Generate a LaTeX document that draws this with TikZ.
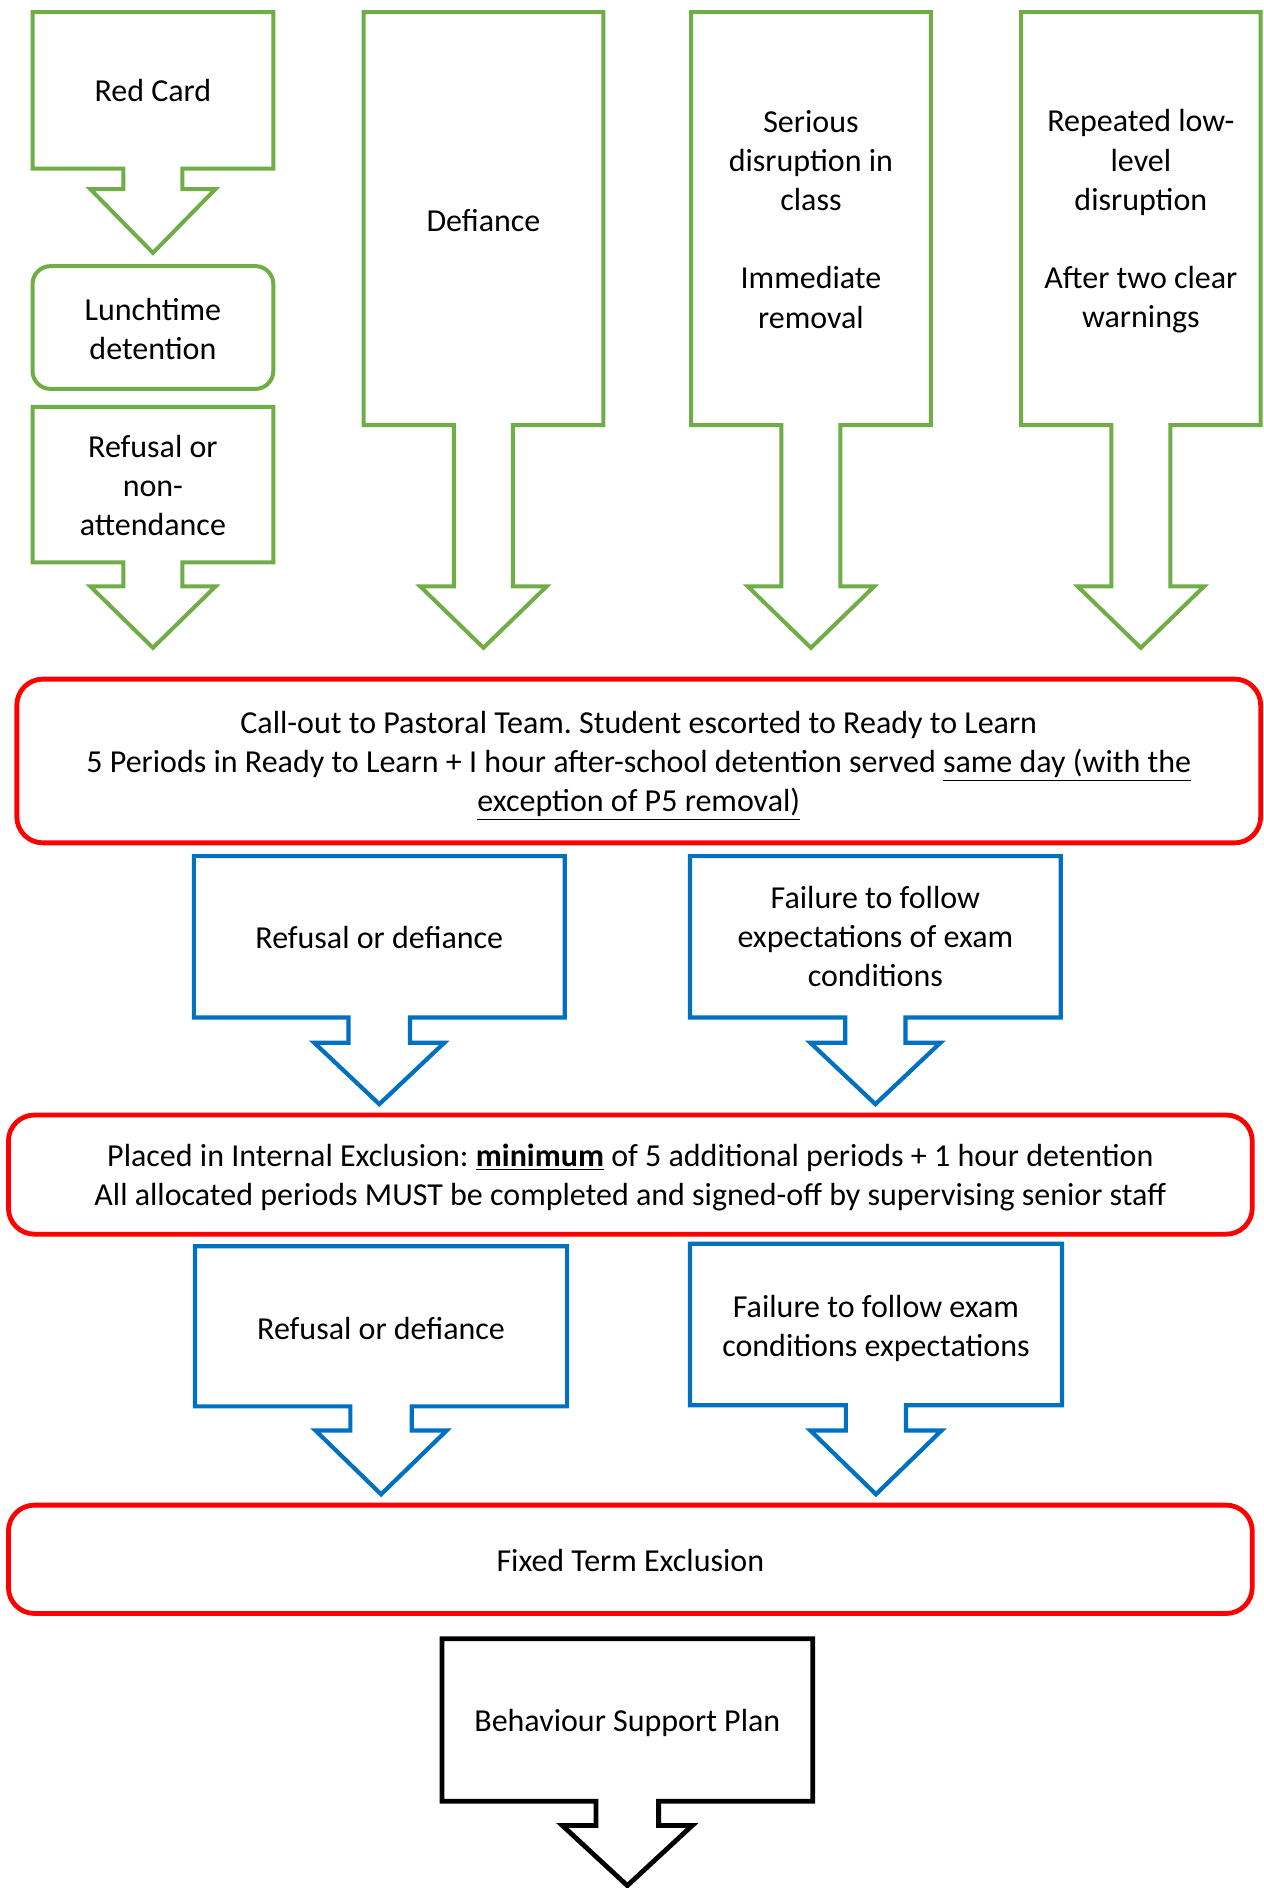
\documentclass[tikz,border=0pt]{standalone}
\usepackage{fontspec}
\setmainfont{Carlito}
\usepackage{tikz}
\frenchspacing

\definecolor{actgreen}{HTML}{70AD47}
\definecolor{actred}{HTML}{FF0000}
\definecolor{actblue}{HTML}{0070C0}

% Down-pointing callout: style, left, right, top, bottom, neck, tip, stem half-width, head half-width
\newcommand{\arrowbox}[9]{%
  \pgfmathsetmacro{\xMid}{(#2+#3)/2}
  \draw[#1] (#2,#4) -- (#3,#4) -- (#3,#5) -- ({\xMid+#8},#5) -- ({\xMid+#8},#6)
    -- ({\xMid+#9},#6) -- (\xMid,#7) -- ({\xMid-#9},#6) -- ({\xMid-#8},#6)
    -- ({\xMid-#8},#5) -- (#2,#5) -- cycle;}

\begin{document}
\begin{tikzpicture}[x=0.602pt, y=-0.602pt,
  greenbox/.style={draw=actgreen, line width=2pt},
  bluebox/.style={draw=actblue, line width=2.1pt},
  redbox/.style={draw=actred, line width=2.4pt, rounded corners=13pt},
  blackbox/.style={draw=black, line width=2.4pt},
  boxtext/.style={align=center, inner sep=0pt, font=\fontsize{16}{19.6}\selectfont}]

\useasboundingbox (0,0) rectangle (1049,1568);

%--- Top row: green callouts ---
% Red Card -> Lunchtime detention -> Refusal
\arrowbox{greenbox}{27}{227}{10}{140}{157}{210}{24.5}{52}
\node[boxtext] (redcard) at (127,75) {Red Card};
\draw[greenbox, rounded corners=9pt] (27,221) rectangle (227,323);
\node[boxtext] (lunch) at (127,273.5) {Lunchtime\\detention};
\arrowbox{greenbox}{27}{227}{338}{467}{487}{538}{24.5}{52}
\node[boxtext] (nonattend) at (127,403) {Refusal or\\non-\\attendance};

% Defiance
\arrowbox{greenbox}{302}{501}{10}{353}{487}{538}{24.5}{52.5}
\node[boxtext] (defiance) at (401.5,183) {Defiance};

% Serious disruption
\arrowbox{greenbox}{574}{773}{10}{353}{487}{538}{24.5}{52.5}
\node[boxtext] (serious) at (673.5,182) {Serious\\disruption in\\class\\[19.6pt]Immediate\\removal};

% Repeated low-level disruption
\arrowbox{greenbox}{848}{1047}{10}{353}{487}{538}{24.5}{52.5}
\node[boxtext] (lowlevel) at (947.5,184) {Repeated low-\\level\\disruption\\[19.6pt]After two clear\\warnings};

%--- Ready to Learn ---
\draw[redbox] (14,564) rectangle (1047,700);
\node[boxtext] (readylearn) at (530.5,636) {Call-out to Pastoral Team. Student escorted to Ready to Learn\\
  5 Periods in Ready to Learn + I hour after-school detention served \underline{same day (with the}\\
  \underline{exception of P5 removal)}};

%--- First blue row ---
\arrowbox{bluebox}{161}{469}{711}{845}{866}{917}{25.5}{54}
\node[boxtext] (refuseA) at (315,779) {Refusal or defiance};
\arrowbox{bluebox}{573}{881}{711}{845}{866}{917}{25}{54}
\node[boxtext] (examA) at (727,778) {Failure to follow\\expectations of exam\\conditions};

%--- Internal Exclusion ---
\draw[redbox] (7,926) rectangle (1040,1025);
\node[boxtext] (internal) at (523.5,978) {Placed in Internal Exclusion: \underline{\textbf{minimum}} of 5 additional periods + 1 hour detention\\
  All allocated periods MUST be completed and signed-off by supervising senior staff};

%--- Second blue row ---
\arrowbox{bluebox}{162}{471}{1035}{1168}{1188}{1241}{25.5}{54.5}
\node[boxtext] (refuseB) at (316.5,1103) {Refusal or defiance};
\arrowbox{bluebox}{573}{882}{1033}{1167}{1188}{1241}{25}{54.5}
\node[boxtext] (examB) at (727.5,1103.5) {Failure to follow exam\\conditions expectations};

%--- Fixed Term Exclusion ---
\draw[redbox] (7,1250) rectangle (1040,1340);
\node[boxtext] (fixedterm) at (523.5,1296) {Fixed Term Exclusion};

%--- Behaviour Support Plan ---
\arrowbox{blackbox}{367}{675}{1361}{1496}{1516}{1566}{26}{54}
\node[boxtext] (support) at (521,1431) {Behaviour Support Plan};

\end{tikzpicture}
\end{document}
